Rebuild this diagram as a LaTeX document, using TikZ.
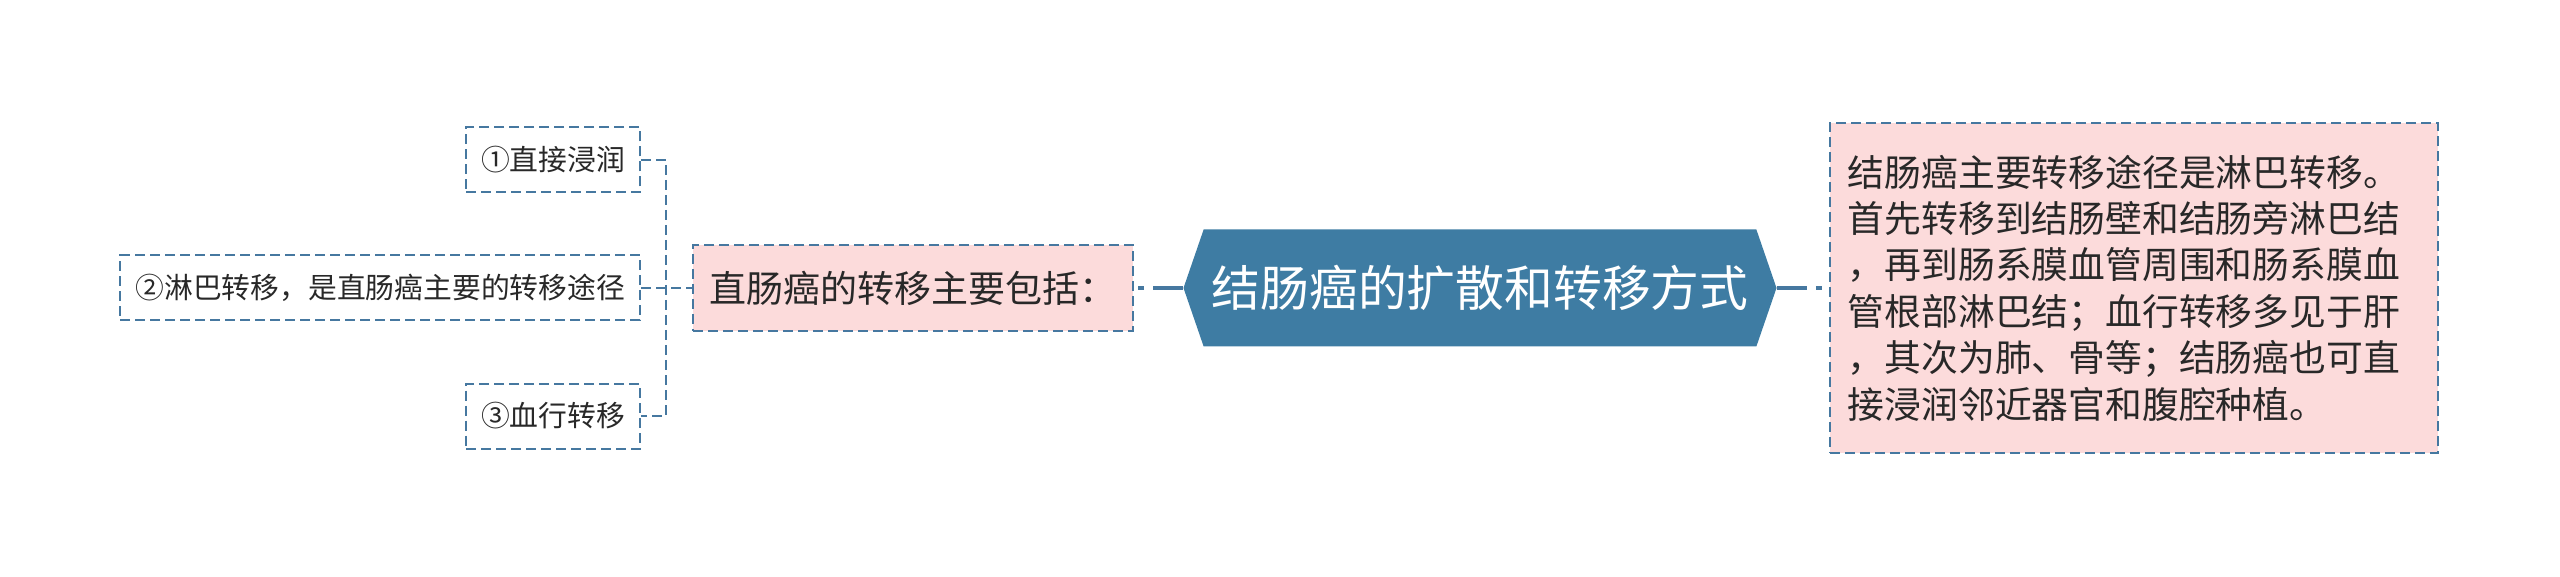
\documentclass[tikz,border=0pt]{standalone}
\usepackage{fontspec}
\setmainfont{Noto Sans CJK SC}
\usetikzlibrary{positioning,shapes.symbols,calc}
\definecolor{linkblue}{RGB}{70,120,160}
\definecolor{topicblue}{RGB}{62,124,163}
\definecolor{notepink}{RGB}{252,219,219}
\definecolor{inkgray}{RGB}{40,40,40}
\tikzset{
  dashedge/.style={draw=linkblue, line width=1pt, dash pattern=on 5pt off 2.5pt},
  leaf/.style={dashedge, text=inkgray, inner xsep=7.5pt, inner ysep=0pt,
    minimum height=32.5pt, font=\fontsize{14.4pt}{16pt}\selectfont},
  midbox/.style={dashedge, fill=notepink, text=inkgray, minimum width=220pt,
    minimum height=43pt, font=\fontsize{18.5pt}{22pt}\selectfont},
  topicbox/.style={signal, signal to=west and east, signal pointer angle=142,
    fill=topicblue, text=white, minimum width=296.5pt, minimum height=58.5pt,
    inner sep=0pt, font=\fontsize{24.4pt}{28pt}\selectfont},
  notebox/.style={dashedge, fill=notepink, text=inkgray, align=left,
    text width=286pt, inner xsep=9pt, minimum height=165pt,
    font=\fontsize{18.4pt}{23.2pt}\selectfont},
  branch/.style={draw=linkblue, line width=1pt, dash pattern=on 5pt off 2.5pt},
  trunk/.style={draw=linkblue, line width=1.75pt,
    dash pattern=on 15pt off 4.5pt on 3pt off 10pt},
}

\begin{document}
\begin{tikzpicture}[x=0.5pt, y=-0.5pt]
  \useasboundingbox (0,0) rectangle (2560,577);

  \node[topicbox] (topic) at (1480,288) {结肠癌的扩散和转移方式};
  \node[midbox, left=24.5pt of topic] (rectal) {直肠癌的转移主要包括：};
  \node[notebox, right=26pt of topic] (colon) {结肠癌主要转移途径是淋巴转移。\\
    首先转移到结肠壁和结肠旁淋巴结\\
    ，再到肠系膜血管周围和肠系膜血\\
    管根部淋巴结；血行转移多见于肝\\
    ，其次为肺、骨等；结肠癌也可直\\
    接浸润邻近器官和腹腔种植。};

  \node[leaf, left=25.5pt of rectal] (lymph) {②淋巴转移，是直肠癌主要的转移途径};
  \node[leaf, above left=30.5pt and 0pt of lymph.north east] (direct) {①直接浸润};
  \node[leaf, below left=30.5pt and 0pt of lymph.south east] (blood) {③血行转移};
  \coordinate[left=13pt of rectal.west] (fork);

  \draw[trunk] (topic.west) -- (rectal.east);
  \draw[trunk] (topic.east) -- (colon.west);
  \draw[branch] (lymph.east) -- (rectal.west);
  \draw[branch] (direct.east) -| (fork) |- (blood.east);
\end{tikzpicture}
\end{document}
